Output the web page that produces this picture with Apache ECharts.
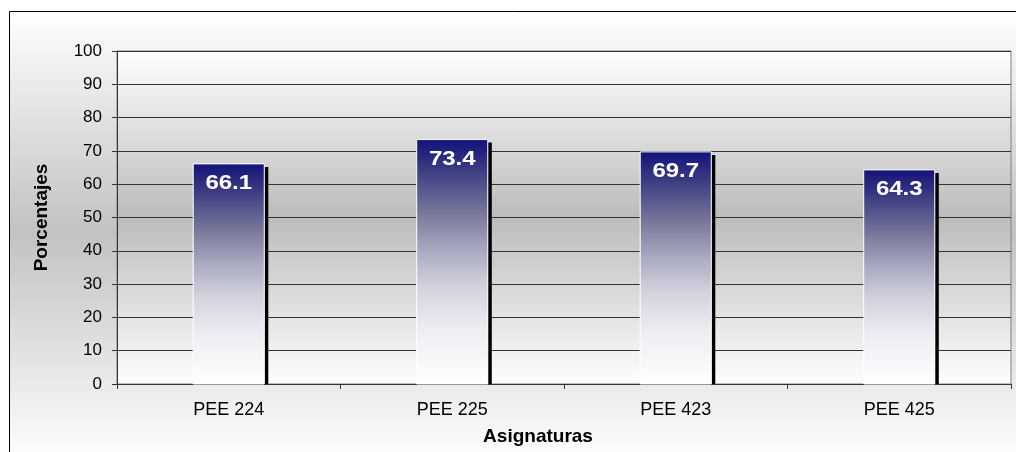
<!DOCTYPE html>
<html>
<head>
<meta charset="utf-8">
<script src="https://cdn.jsdelivr.net/npm/echarts@6/dist/echarts.min.js"></script>
<style>
html,body{margin:0;padding:0;background:#fff;}
#chart{width:1016px;height:452px;}
</style>
</head>
<body>
<div id="chart"></div>
<script>
const categories = ['PEE 224', 'PEE 225', 'PEE 423', 'PEE 425'];
const porcentajes = [66.1, 73.4, 69.7, 64.3];
const yTicks = [0, 10, 20, 30, 40, 50, 60, 70, 80, 90, 100];

const chart = echarts.init(document.getElementById('chart'));

const barGradient = new echarts.graphic.LinearGradient(0, 0, 0, 1, [
  {offset: 0, color: '#12127a'},
  {offset: 0.12, color: '#3a3a82'},
  {offset: 0.3, color: '#77779a'},
  {offset: 0.45, color: '#a8a8c0'},
  {offset: 0.6, color: '#d2d2dd'},
  {offset: 0.78, color: '#eeeef4'},
  {offset: 1, color: '#ffffff'}
]);

const option = {
  backgroundColor: '#ffffff',
  animation: false,
  graphic: [{
    type: 'rect',
    z: -10,
    shape: {x: 9.5, y: 11.5, width: 1100, height: 500},
    style: {
      fill: new echarts.graphic.LinearGradient(0, 12, 0, 452, [
        {offset: 0, color: '#ffffff'},
        {offset: 0.5, color: '#c2c2c2'},
        {offset: 1, color: '#fcfcfc'}
      ], true),
      stroke: '#000',
      lineWidth: 1
    }
  }],
  grid: {
    left: 117, right: 5, top: 51, bottom: 68,
    show: true,
    borderColor: '#808080',
    borderWidth: 1,
    backgroundColor: {
      type: 'linear', x: 0, y: 0, x2: 0, y2: 1,
      colorStops: [
        {offset: 0, color: '#fefefe'},
        {offset: 0.5, color: '#bcbcbc'},
        {offset: 1, color: '#fefefe'}
      ]
    }
  },
  xAxis: {
    type: 'category',
    data: categories,
    boundaryGap: true,
    name: 'Asignaturas',
    nameLocation: 'middle',
    nameGap: 43,
    nameTextStyle: {fontFamily: 'Arial, Liberation Sans', fontWeight: 'bold', fontSize: 19, color: '#000', padding: [0, 52, 0, 0]},
    axisLine: {show: true, lineStyle: {color: '#333', width: 1}},
    axisTick: {show: true, alignWithLabel: false, length: 5, lineStyle: {color: '#333'}},
    axisLabel: {fontFamily: 'Arial, Liberation Sans', fontSize: 18, color: '#000', margin: 17},
    splitLine: {show: false}
  },
  yAxis: {
    type: 'value',
    min: yTicks[0],
    max: yTicks[yTicks.length - 1],
    interval: yTicks[1] - yTicks[0],
    name: 'Porcentajes',
    nameLocation: 'middle',
    nameGap: 66,
    nameTextStyle: {fontFamily: 'Arial, Liberation Sans', fontWeight: 'bold', fontSize: 19, color: '#000'},
    axisLine: {show: true, lineStyle: {color: '#333', width: 1}},
    axisTick: {show: true, inside: false, length: 5, lineStyle: {color: '#333'}},
    axisLabel: {fontFamily: 'Arial, Liberation Sans', fontSize: 17, color: '#000', margin: 15},
    splitLine: {show: true, lineStyle: {color: '#333', width: 1}}
  },
  series: [{
    type: 'custom',
    name: 'Porcentajes',
    data: porcentajes.map((v, i) => [i, v]),
    encode: {x: 0, y: 1},
    renderItem: function (params, api) {
      const cat = api.value(0);
      const val = api.value(1);
      const top = api.coord([cat, val]);
      const base = api.coord([cat, 0]);
      const bw = api.size([1, 0])[0] * 0.318;
      const x0 = top[0] - bw / 2;
      const h = base[1] - top[1];
      return {
        type: 'group',
        children: [
          {type: 'rect', shape: {x: x0 + bw, y: top[1] + 3, width: 4, height: h - 3}, style: {fill: '#000'}},
          {type: 'rect', shape: {x: x0, y: top[1], width: bw, height: h}, style: {fill: barGradient, stroke: '#ffffff', lineWidth: 1}},
          {type: 'text', x: top[0], y: top[1] + 20, scaleX: 1.2,
            style: {text: String(val), fill: '#ffffff', font: 'bold 20px Arial, "Liberation Sans"', align: 'center', verticalAlign: 'middle'}}
        ]
      };
    }
  }]
};
chart.setOption(option);
</script>
</body>
</html>
